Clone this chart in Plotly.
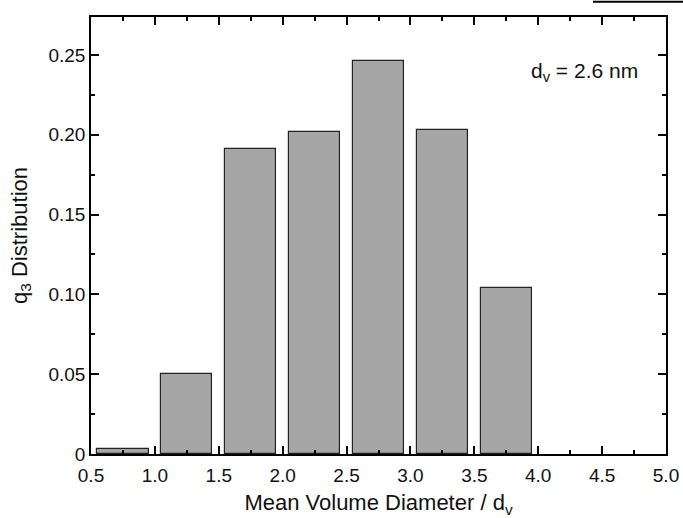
import plotly.graph_objects as go

bin_centers = [0.75, 1.25, 1.75, 2.25, 2.75, 3.25, 3.75]
q3_values = [0.003, 0.050, 0.191, 0.202, 0.246, 0.203, 0.104]
bar_width = 0.4
x_tickvals = [0.5, 1.0, 1.5, 2.0, 2.5, 3.0, 3.5, 4.0, 4.5, 5.0]
x_ticktext = ["0.5", "1.0", "1.5", "2.0", "2.5", "3.0", "3.5", "4.0", "4.5", "5.0"]
y_tickvals = [0, 0.05, 0.10, 0.15, 0.20, 0.25]
y_ticktext = ["0", "0.05", "0.10", "0.15", "0.20", "0.25"]

font_family = "Arial, Liberation Sans, sans-serif"
tick_size = 19
title_size = 22

fig = go.Figure()
fig.add_trace(go.Bar(
    x=bin_centers, y=q3_values, width=bar_width,
    marker=dict(color="#a6a6a6", line=dict(color="#222222", width=1.2)),
    showlegend=False,
))

axis_common = dict(
    showline=True, linecolor="black", linewidth=1.5, mirror="allticks",
    ticks="inside", ticklen=8, tickwidth=1.5, tickcolor="black",
    showgrid=False, zeroline=False, automargin=False,
    tickfont=dict(family=font_family, size=tick_size, color="#111111"),
)

fig.update_xaxes(
    range=[0.5, 5.0], tickvals=x_tickvals, ticktext=x_ticktext,
    ticklabelstandoff=3,
    minor=dict(ticks="inside", ticklen=4, tickwidth=1.5, tickcolor="black", dtick=0.25, tick0=0.5),
    title=dict(text="Mean Volume Diameter / d<sub>v</sub>", font=dict(family=font_family, size=title_size, color="#111111")),
    **axis_common,
)
fig.update_yaxes(
    range=[0, 0.2738], tickvals=y_tickvals, ticktext=y_ticktext,
    minor=dict(ticks="inside", ticklen=4, tickwidth=1.5, tickcolor="black", dtick=0.025, tick0=0),
    title=dict(text="q<sub>3</sub> Distribution", font=dict(family=font_family, size=title_size, color="#111111")),
    **axis_common,
)

fig.add_annotation(
    x=0.955, y=0.874, xref="paper", yref="paper", xanchor="right", yanchor="middle",
    text="d<sub>v</sub> = 2.6 nm", showarrow=False,
    font=dict(family=font_family, size=21, color="#111111"),
)

fig.add_shape(type="line", xref="paper", yref="paper",
              x0=0.873, x1=1.04, y0=1.035, y1=1.035,
              line=dict(color="black", width=2))

fig.update_layout(
    width=683, height=518,
    margin=dict(l=91, r=17, t=17, b=64),
    plot_bgcolor="white", paper_bgcolor="white",
    bargap=0,
)

fig.write_html(
    "out.html",
    config={"displayModeBar": False},
    post_script="document.body.style.margin='0';document.body.style.overflow='hidden';",
)
